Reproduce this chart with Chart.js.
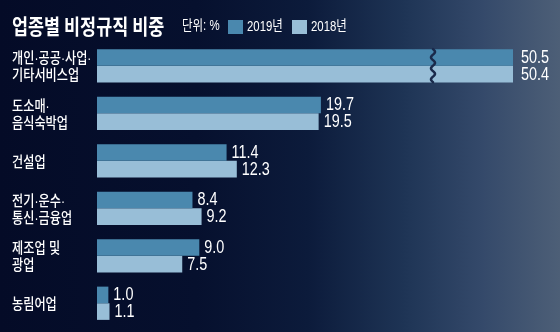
<!DOCTYPE html>
<html><head><meta charset="utf-8">
<script src="https://cdn.jsdelivr.net/npm/chart.js@4/dist/chart.umd.min.js"></script>
<style>
html,body{margin:0;padding:0;}
body{width:560px;height:332px;overflow:hidden;background:linear-gradient(to right,#040b27 0%,#06102e 35%,#0c1b3b 55%,#1e3455 72%,#34496a 86%,#4d5f77 100%);}
#wrap{position:relative;width:560px;height:332px;}
</style></head><body>
<div id="wrap"><canvas id="c" width="560" height="332"></canvas></div>
<script>
const titleText = '업종별 비정규직 비중';
const unitText = '단위: %';
const categories = [['개인·공공·사업·','기타서비스업'],['도소매·','음식숙박업'],'건설업',['전기·운수·','통신·금융업'],['제조업 및','광업'],'농림어업'];
const seriesNames = ['2019년','2018년'];
const values2019 = [50.5, 19.7, 11.4, 8.4, 9.0, 1.0];
const values2018 = [50.4, 19.5, 12.3, 9.2, 7.5, 1.1];
const seriesColors = ['#4a88ae', '#98bed7'];
const axisMax = 36.6;

function drawText(ctx, text, x, y, font, color, sx) {
  ctx.save();
  ctx.font = font; ctx.fillStyle = color; ctx.textBaseline = 'middle'; ctx.textAlign = 'left';
  ctx.translate(x, y); ctx.scale(sx, 1);
  ctx.fillText(text, 0, 0);
  ctx.restore();
}

const headerPlugin = {
  id: 'header',
  afterDraw(chart) {
    const ctx = chart.ctx;
    drawText(ctx, titleText, 12, 26, 'bold 21px "Noto Sans CJK KR"', '#ffffff', 0.83);
    drawText(ctx, unitText, 182, 26, '14px "Liberation Sans", "Noto Sans CJK KR"', '#ffffff', 0.82);
    let x = 228;
    chart.data.datasets.forEach((ds) => {
      ctx.fillStyle = ds.backgroundColor;
      ctx.fillRect(x, 20, 15, 14);
      drawText(ctx, ds.label, x + 19, 27, '15px "Liberation Sans", "Noto Sans CJK KR"', '#ffffff', 0.76);
      x += 64;
    });
  }
};

const categoryLabelPlugin = {
  id: 'catLabels',
  afterDraw(chart) {
    const ctx = chart.ctx, ys = chart.scales.y;
    chart.data.labels.forEach((lab, j) => {
      const lines = Array.isArray(lab) ? lab : [lab];
      const cy = ys.getPixelForValue(j) + 2;
      const lh = 17;
      const y0 = cy - (lines.length - 1) * lh / 2;
      lines.forEach((t, k) => {
        drawText(ctx, t, ys.left, y0 + k * lh, '500 14.5px "Liberation Sans", "Noto Sans CJK KR"', '#ffffff', 0.84);
      });
    });
  }
};

const valuePlugin = {
  id: 'values',
  afterDatasetsDraw(chart) {
    const ctx = chart.ctx, area = chart.chartArea;
    const n = chart.data.labels.length;
    for (let j = 0; j < n; j++) {
      let top = Infinity, bottom = -Infinity, clipped = false;
      chart.data.datasets.forEach((ds, i) => {
        const bar = chart.getDatasetMeta(i).data[j];
        const p = bar.getProps(['x', 'y', 'height'], true);
        const over = p.x > area.right;
        if (over) clipped = true;
        top = Math.min(top, p.y - p.height / 2);
        bottom = Math.max(bottom, p.y + p.height / 2);
        const x = over ? area.right + 8 : p.x + 5;
        drawText(ctx, ds.data[j].toFixed(1), x, p.y + 0.5, '18px "Liberation Sans"', '#ffffff', 0.8);
      });
      if (clipped) {
        const bx = area.right - 80;
        ctx.save();
        ctx.strokeStyle = '#1a2a4b'; ctx.lineWidth = 2.5; ctx.lineCap = 'round';
        ctx.beginPath();
        for (let y = top; y <= bottom; y += 0.5) {
          const xx = bx + 2 * Math.sin((y - top) / 11 * 2 * Math.PI);
          if (y === top) ctx.moveTo(xx, y); else ctx.lineTo(xx, y);
        }
        ctx.stroke();
        ctx.restore();
      }
    }
  }
};

new Chart(document.getElementById('c'), {
  type: 'bar',
  data: {
    labels: categories,
    datasets: [
      { label: seriesNames[0], data: values2019, backgroundColor: seriesColors[0] },
      { label: seriesNames[1], data: values2018, backgroundColor: seriesColors[1] }
    ]
  },
  options: {
    indexAxis: 'y',
    responsive: false,
    animation: false,
    devicePixelRatio: 1,
    categoryPercentage: 0.7,
    barPercentage: 1.0,
    layout: { padding: { left: 12, right: 47, top: 42, bottom: 5 } },
    plugins: { legend: { display: false }, tooltip: { enabled: false }, title: { display: false } },
    scales: {
      x: { display: false, min: 0, max: axisMax },
      y: {
        grid: { display: false }, border: { display: false },
        afterFit(s) { s.width = 85; },
        ticks: { display: false }
      }
    }
  },
  plugins: [headerPlugin, categoryLabelPlugin, valuePlugin]
});
</script>
</body></html>
